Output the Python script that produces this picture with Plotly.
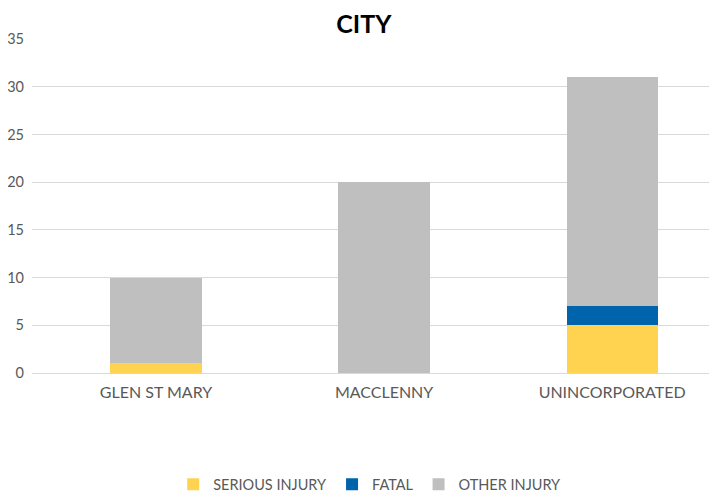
import plotly.graph_objects as go

cities = ["GLEN ST MARY", "MACCLENNY", "UNINCORPORATED"]
serious_injury = [1, 0, 5]
fatal = [0, 0, 2]
other_injury = [9, 20, 24]
y_ticks = [0, 5, 10, 15, 20, 25, 30, 35]

FONT = "Lato, 'Open Sans', sans-serif"

fig = go.Figure()
fig.add_trace(go.Bar(x=[0, 1, 2], y=serious_injury, name="SERIOUS INJURY",
                     marker=dict(color="#FFD250", line=dict(width=0)), width=0.4))
fig.add_trace(go.Bar(x=[0, 1, 2], y=fatal, name="FATAL",
                     marker=dict(color="#0064AD", line=dict(width=0)), width=0.4))
fig.add_trace(go.Bar(x=[0, 1, 2], y=other_injury, name="OTHER INJURY",
                     marker=dict(color="#BFBFBF", line=dict(width=0)), width=0.4))

# page body has an 8px margin, so the figure is sized to the visible area
fig.update_layout(
    barmode="stack",
    width=709, height=486,
    margin=dict(l=24, r=0, t=31, b=121, autoexpand=False),
    paper_bgcolor="white", plot_bgcolor="white",
    font=dict(family=FONT, color="#595959", size=14),
    title=dict(text="<b>CITY</b>", x=0.502, xanchor="center", y=0.967, yanchor="middle",
               font=dict(family=FONT, size=25, color="#000000")),
    showlegend=True,
    legend=dict(orientation="h", x=0.493, xanchor="center", y=-0.333, yanchor="middle",
                font=dict(family=FONT, size=14.5, color="#595959"),
                itemwidth=30, traceorder="normal"),
    xaxis=dict(range=[-0.544, 2.46], tickvals=[0, 1, 2], ticktext=cities,
               showgrid=False, zeroline=False, showline=False, ticks="",
               automargin=False, ticklabelstandoff=8,
               tickfont=dict(size=16, color="#595959")),
    yaxis=dict(range=[0, 35], tickvals=y_ticks, showgrid=True, gridcolor="#D9D9D9",
               gridwidth=1, zeroline=True, zerolinecolor="#D9D9D9", zerolinewidth=1,
               showline=False, ticks="", ticklabelstandoff=7, automargin=False,
               tickfont=dict(size=14.5, color="#595959")),
)

fig.write_html("out.html")
